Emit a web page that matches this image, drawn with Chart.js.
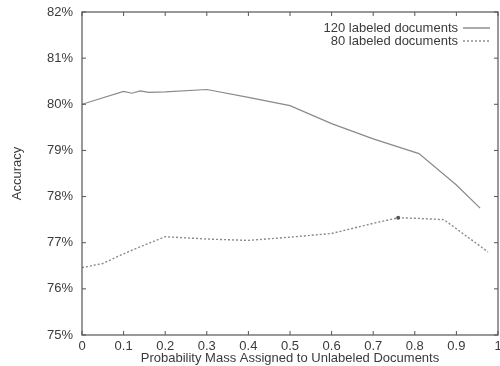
<!DOCTYPE html>
<html>
<head>
<meta charset="utf-8">
<script src="https://cdn.jsdelivr.net/npm/chart.js@4"></script>
<style>
  html, body { margin: 0; padding: 0; background: #fff; }
  #wrap { width: 500px; height: 366px; position: relative; }
</style>
</head>
<body>
<div id="wrap"><canvas id="chart"></canvas></div>
<script>
// Accuracy vs. probability mass given to unlabeled docs
const mass120 = [0, 0.1, 0.12, 0.14, 0.16, 0.2, 0.3, 0.4, 0.5, 0.6, 0.7, 0.81, 0.9, 0.957];
const acc120 = [80.0, 80.28, 80.24, 80.29, 80.26, 80.27, 80.32, 80.15, 79.97, 79.58, 79.25, 78.93, 78.25, 77.75];

const mass80 = [0, 0.05, 0.1, 0.15, 0.2, 0.3, 0.4, 0.5, 0.6, 0.7, 0.76, 0.8, 0.87, 0.976];
const acc80 = [76.46, 76.55, 76.76, 76.95, 77.13, 77.08, 77.05, 77.12, 77.2, 77.42, 77.54, 77.53, 77.5, 76.8];

const yTicks = [75, 76, 77, 78, 79, 80, 81, 82];
const xTicks = [0, 0.1, 0.2, 0.3, 0.4, 0.5, 0.6, 0.7, 0.8, 0.9, 1];

const font = 'Liberation Sans, Arial, Helvetica, sans-serif';
const ink = '#3a3a3a';
const lineGray = '#8a8a8a';

const toPoints = (xs, ys) => xs.map((x, i) => ({ x, y: ys[i] }));

// frame + inward tick marks, like the original plot
const framePlugin = {
    id: 'frame',
    afterDraw(chart) {
        const { ctx, chartArea: a, scales } = chart;
        ctx.save();
        ctx.strokeStyle = '#555';
        ctx.lineWidth = 1.2;
        ctx.strokeRect(a.left, a.top, a.right - a.left, a.bottom - a.top);
        ctx.lineWidth = 1;
        ctx.beginPath();
        for (const v of xTicks) {
            const px = scales.x.getPixelForValue(v);
            ctx.moveTo(px, a.bottom); ctx.lineTo(px, a.bottom - 4);
            ctx.moveTo(px, a.top); ctx.lineTo(px, a.top + 4);
        }
        for (const v of yTicks) {
            const py = scales.y.getPixelForValue(v);
            ctx.moveTo(a.left, py); ctx.lineTo(a.left + 4, py);
            ctx.moveTo(a.right, py); ctx.lineTo(a.right - 4, py);
        }
        ctx.stroke();
        ctx.restore();
    }
};

// legend in the top-right corner, sample line to the right of the label
const legendPlugin = {
    id: 'cornerLegend',
    afterDraw(chart) {
        const { ctx, chartArea: a } = chart;
        ctx.save();
        ctx.font = '13px ' + font;
        ctx.textAlign = 'right';
        ctx.textBaseline = 'middle';
        chart.data.datasets.forEach((ds, i) => {
            const y = a.top + 16 + i * 13;
            ctx.fillStyle = ink;
            ctx.fillText(ds.label, a.right - 40, y);
            ctx.strokeStyle = '#555';
            ctx.lineWidth = 1;
            ctx.setLineDash(ds.borderDash || []);
            ctx.beginPath();
            ctx.moveTo(a.right - 35, y);
            ctx.lineTo(a.right - 8, y);
            ctx.stroke();
        });
        ctx.restore();
    }
};

new Chart(document.getElementById('chart'), {
    type: 'line',
    data: {
        datasets: [
            {
                label: '120 labeled documents',
                data: toPoints(mass120, acc120),
                borderColor: lineGray, borderWidth: 1.2,
                pointRadius: 0, tension: 0
            },
            {
                label: '80 labeled documents',
                data: toPoints(mass80, acc80),
                borderColor: lineGray, borderWidth: 1.4, borderDash: [2, 2],
                pointRadius: mass80.map(m => m === 0.76 ? 2 : 0),
                pointBackgroundColor: '#555', pointBorderWidth: 0,
                tension: 0
            }
        ]
    },
    options: {
        responsive: true, maintainAspectRatio: false, animation: false,
        layout: { padding: { top: 12, right: 2, left: 10, bottom: 0 } },
        plugins: { legend: { display: false }, tooltip: { enabled: false } },
        scales: {
            x: {
                type: 'linear', min: 0, max: 1,
                grid: { display: false, drawTicks: false }, border: { display: false },
                afterBuildTicks: s => { s.ticks = xTicks.map(v => ({ value: v })); },
                afterFit: s => { s.height = 31; s.paddingLeft = 0; s.paddingRight = 0; },
                ticks: {
                    color: ink, font: { family: font, size: 13 }, padding: 4,
                    maxRotation: 0, autoSkip: false,
                    callback: v => String(v)
                },
                title: {
                    display: true, text: 'Probability Mass Assigned to Unlabeled Documents',
                    color: ink, font: { family: font, size: 13 }, padding: { top: 0, bottom: 0 }
                }
            },
            y: {
                min: 75, max: 82,
                grid: { display: false, drawTicks: false }, border: { display: false },
                afterBuildTicks: s => { s.ticks = yTicks.map(v => ({ value: v })); },
                afterFit: s => { s.width = 72; s.paddingTop = 0; s.paddingBottom = 0; },
                ticks: {
                    color: ink, font: { family: font, size: 13 }, padding: 9,
                    callback: v => v + '%'
                },
                title: {
                    display: true, text: 'Accuracy',
                    color: ink, font: { family: font, size: 13 }, padding: { top: 0, bottom: 0 }
                }
            }
        }
    },
    plugins: [framePlugin, legendPlugin]
});
</script>
</body>
</html>
